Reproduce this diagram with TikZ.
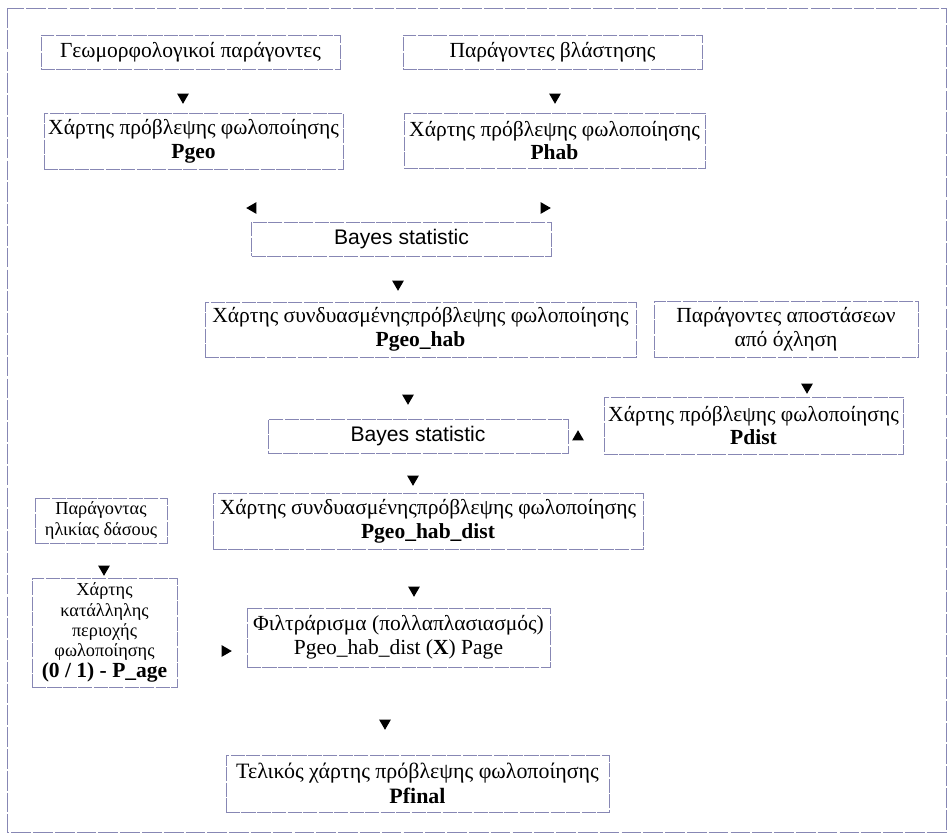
\documentclass[tikz,border=0pt]{standalone}
\usepackage{fontspec}
\setmainfont{Liberation Serif}
\newfontfamily\bayesfont{Liberation Sans}
\usetikzlibrary{shapes.geometric,positioning}
\definecolor{framecol}{RGB}{135,135,180}

\begin{document}
\begin{tikzpicture}[
    x=0.025cm, y=-0.025cm,
    box/.style 2 args={rectangle, draw=framecol, line width=0.5pt, dash pattern=on 10pt off 1pt, inner sep=0pt, minimum width=#1*0.025cm, minimum height=#2*0.025cm, align=center, font=\fontsize{15.3}{17}\selectfont},
    smallbox/.style 2 args={box={#1}{#2}, font=\fontsize{13}{14.5}\selectfont},
    bayesbox/.style={box={300}{34}, font=\bayesfont\fontsize{15}{17}\selectfont},
    head/.style={regular polygon, regular polygon sides=3, fill=black, draw=none, inner sep=0pt, minimum size=0.34cm},
    tipdown/.style={head, shape border rotate=180},
    tipup/.style={head},
    tipleft/.style={head, shape border rotate=90},
    tipright/.style={head, shape border rotate=270}
]
\useasboundingbox (0,0) rectangle (951,836);
\draw[framecol, line width=0.5pt, dash pattern=on 14pt off 1.5pt] (7,8) rectangle (946,832);

% input factors
\node[box={299}{34}] (geof) at (190.5,52) {Γεωμορφολογικοί παράγοντες};
\node[box={299}{34}] (habf) at (552.5,52) {Παράγοντες βλάστησης};

\node[box={299}{56}] (pgeo) at (193.5,141) {Χάρτης πρόβλεψης φωλοποίησης\\\textbf{Pgeo}};
\node[box={301}{55}] (phab) at (554.5,140.5) {Χάρτης πρόβλεψης φωλοποίησης\\\textbf{Phab}};

\node[bayesbox] (bayes1) at (401.5,239) {Bayes statistic};

\node[box={431}{55}] (pgeohab) at (420.5,329.5) {Χάρτης συνδυασμένηςπρόβλεψης φωλοποίησης\\\textbf{Pgeo\_hab}};
\node[box={264}{56}] (distf) at (786,329) {Παράγοντες αποστάσεων\\από όχληση};
\node[box={299}{57}] (pdist) at (753.5,425.5) {Χάρτης πρόβλεψης φωλοποίησης\\\textbf{Pdist}};

\node[bayesbox] (bayes2) at (418,436.5) {Bayes statistic};

\node[box={430}{56}] (pgeohabdist) at (428,521) {Χάρτης συνδυασμένηςπρόβλεψης φωλοποίησης\\\textbf{Pgeo\_hab\_dist}};

% forest age branch
\node[smallbox={132}{45}] (agef) at (101,520.5) {Παράγοντας\\ηλικίας δάσους};
\node[smallbox={145}{109}] (page) at (104.5,632.5) {Χάρτης\\κατάλληλης\\περιοχής\\φωλοποίησης\\{\fontsize{15.3}{17}\selectfont\textbf{(0 / 1) - P\_age}}};

\node[box={303}{59}] (filter) at (398.5,637.5) {Φιλτράρισμα (πολλαπλασιασμός)\\Pgeo\_hab\_dist (\textbf{X}) Page};
\node[box={383}{57}, font=\fontsize{15.6}{18}\selectfont] (pfinal) at (417.5,783.5) {Τελικός χάρτης πρόβλεψης φωλοποίησης\\\textbf{Pfinal}};

% arrow heads
\node[tipdown] (h1) at (183,97) {};
\node[tipdown] (h2) at (555,97) {};
\node[tipleft] (h3) at (253,208) {};
\node[tipright] (h4) at (544,208) {};
\node[tipdown] (h5) at (398,284) {};
\node[tipdown] (h6) at (807,387) {};
\node[tipdown] (h7) at (408,398) {};
\node[tipup] (h8) at (578,437) {};
\node[tipdown] (h9) at (413,479) {};
\node[tipdown] (h10) at (104,569) {};
\node[tipdown] (h11) at (414,590) {};
\node[tipright] (h12) at (225,651) {};
\node[tipdown] (h13) at (385,723) {};
\end{tikzpicture}
\end{document}
